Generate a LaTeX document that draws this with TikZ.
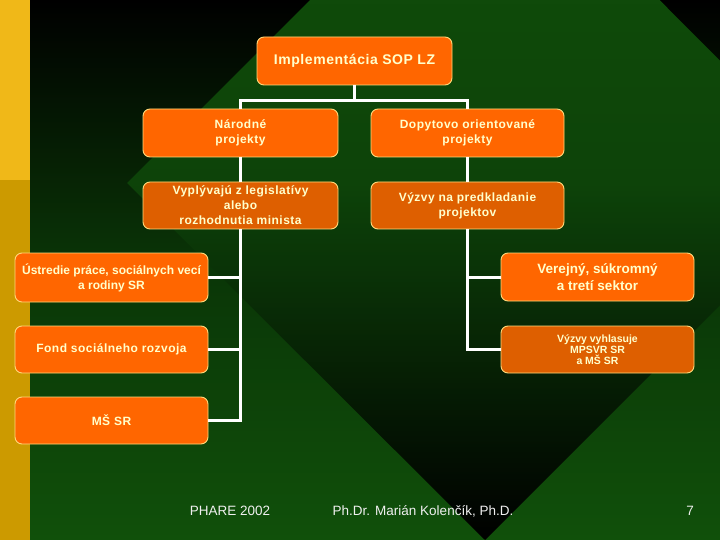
\documentclass[tikz,border=0pt]{standalone}
\usepackage{fontspec}
\setmainfont{Liberation Sans}
\newfontfamily\boxfont[LetterSpace=4]{Liberation Sans}
\definecolor{bggreen}{HTML}{10500A}
\definecolor{midgreen}{HTML}{0D4309}
\definecolor{outmid}{HTML}{0A3607}
\definecolor{stripA}{HTML}{F0B818}
\definecolor{stripB}{HTML}{CC9A00}
\definecolor{boxorange}{HTML}{FF6600}
\definecolor{boxdark}{HTML}{DE5F00}
\definecolor{boxborder}{HTML}{FFD97A}
\definecolor{boxtext}{HTML}{FFFFCC}
\definecolor{foottext}{HTML}{F0F0F0}
\begin{document}
\begin{tikzpicture}[x=1pt,y=-1pt,
  box/.style={draw=boxborder, line width=0.9pt, fill=boxorange, rounded corners=7pt,
    text=boxtext, font=\boxfont\bfseries\fontsize{12}{15}\selectfont, align=center,
    inner sep=0pt, minimum width=193pt, minimum height=47pt},
  darkbox/.style={box, fill=boxdark},
  conn/.style={draw=white, line width=3pt},
  foot/.style={text=foottext, font=\fontsize{13.5}{16}\selectfont, inner sep=0pt}]
\useasboundingbox (0,0) rectangle (720,540);
% background
\shade[top color=black, bottom color=bggreen, middle color=outmid] (0,0) rectangle (720,540);
\shade[top color=bggreen, bottom color=black, middle color=midgreen]
  (127,183) -- (485,-175) -- (842,183) -- (485,540) -- cycle;
\fill[stripA] (0,0) rectangle (30,180);
\fill[stripB] (0,180) rectangle (30,540);
% nodes
\node[box, minimum width=195pt, minimum height=48pt, font=\boxfont\bfseries\fontsize{14}{17}\selectfont] (top) at (354.5,61) {Implementácia SOP LZ};
\node[box, minimum width=195pt, minimum height=48pt] (nar) at (240.5,133) {Národné\\projekty};
\node[box, minimum height=48pt] (dop) at (467.5,133) {Dopytovo orientované\\projekty};
\node[darkbox, minimum width=195pt] (vyp) at (240.5,205.5) {Vyplývajú z legislatívy\\alebo\\rozhodnutia minista};
\node[darkbox] (vyz) at (467.5,205.5) {Výzvy na predkladanie\\projektov};
\node[box, minimum height=49pt, font=\bfseries\fontsize{12}{15}\selectfont] (ust) at (111.5,277.5) {Ústredie práce, sociálnych vecí\\a rodiny SR};
\node[box] (fond) at (111.5,349.5) {Fond sociálneho rozvoja};
\node[box] (ms) at (111.5,420.5) {MŠ SR};
\node[box, minimum height=48pt, font=\bfseries\fontsize{13.5}{17}\selectfont] (ver) at (597.5,277) {Verejný, súkromný\\a tretí sektor};
\node[darkbox, font=\bfseries\fontsize{10.5}{11}\selectfont] (vyh) at (597.5,349.5) {Výzvy vyhlasuje\\MPSVR SR\\a MŠ SR};
% connectors
\coordinate (bus) at (0,101);
\draw[conn] (top.south) -- (top.south |- bus);
\draw[conn, line cap=rect] (nar.north |- bus) -- (dop.north |- bus);
\draw[conn] (nar.north |- bus) -- (nar.north);
\draw[conn] (dop.north |- bus) -- (dop.north);
\draw[conn] (nar.south) -- (vyp.north);
\draw[conn] (dop.south) -- (vyz.north);
\draw[conn] (vyp.south) |- (ms.east);
\draw[conn] (ust.east) -- (ust.east -| vyp.south);
\draw[conn] (fond.east) -- (fond.east -| vyp.south);
\draw[conn] (vyz.south) |- (vyh.west);
\draw[conn] (ver.west) -- (ver.west -| vyz.south);
% footer
\node[foot] (f1) at (230,511) {PHARE 2002};
\node[foot] (f2) at (423,511) {Ph.Dr. Marián Kolenčík, Ph.D.};
\node[foot] (f3) at (690,511) {7};
\end{tikzpicture}
\end{document}
